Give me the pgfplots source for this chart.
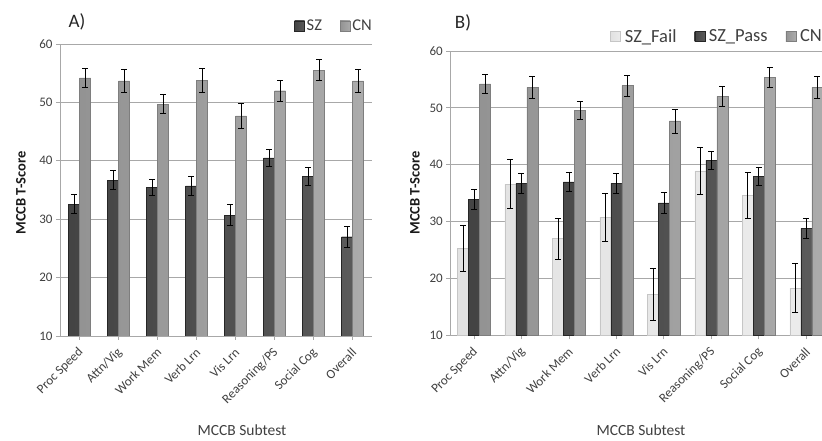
\documentclass[border=0pt]{standalone}
\usepackage{pgfplots}
\pgfplotsset{compat=1.18}
\usepackage{fontspec}
\setmainfont{Carlito}
\definecolor{txt}{HTML}{404040}
\definecolor{gridc}{HTML}{A8A8A8}
\definecolor{szL}{HTML}{444444}
\definecolor{szM}{HTML}{2A2A2A}
\definecolor{szR}{HTML}{5A5A5A}
\definecolor{szD}{HTML}{262626}
\definecolor{cnL}{HTML}{939393}
\definecolor{cnM}{HTML}{DADADA}
\definecolor{cnR}{HTML}{ABABAB}
\definecolor{cnD}{HTML}{7E7E7E}
\definecolor{fL}{HTML}{E2E2E2}
\definecolor{fM}{HTML}{FFFFFF}
\definecolor{fR}{HTML}{EBEBEB}
\definecolor{fD}{HTML}{C6C6C6}

\pgfplotstableread{
x y e
0 32.6 1.6
1 36.7 1.6
2 35.4 1.4
3 35.7 1.7
4 30.7 1.8
5 40.5 1.5
6 37.3 1.5
7 27.0 1.8
}\Asz
\pgfplotstableread{
x y e
0 54.2 1.7
1 53.7 1.9
2 49.7 1.6
3 53.8 2.0
4 47.7 2.2
5 52.0 1.8
6 55.5 1.8
7 53.7 2.0
}\Acn
\pgfplotstableread{
x y e
0 25.3 4.1
1 36.6 4.3
2 27.0 3.6
3 30.8 4.2
4 17.2 4.5
5 38.9 4.1
6 34.6 4.0
7 18.3 4.3
}\Bfail
\pgfplotstableread{
x y e
0 33.9 1.7
1 36.7 1.8
2 37.0 1.6
3 36.7 1.8
4 33.3 1.8
5 40.8 1.6
6 37.9 1.6
7 28.8 1.8
}\Bpass
\pgfplotstableread{
x y e
0 54.2 1.7
1 53.6 1.9
2 49.6 1.6
3 53.9 1.9
4 47.7 2.1
5 52.0 1.8
6 55.4 1.8
7 53.6 2.0
}\Bcn

\pgfplotsset{
  panel/.style={
    scale only axis,
    ymin=10, ymax=60, ytick={10,20,...,60},
    xmin=-0.5, xmax=7.5, xtick={0,...,7},
    xticklabels={Proc Speed, Attn/Vig, Work Mem, Verb Lrn, Vis Lrn, Reasoning/PS, Social Cog, Overall},
    ymajorgrids, grid style={color=gridc, line width=0.8pt},
    axis x line*=bottom, axis y line*=left,
    axis line style={color=gridc, line width=0.8pt, -},
    tick style={color=gridc, line width=0.8pt},
    tick align=outside, major tick length=4pt,
    /pgf/number format/assume math mode=true,
    yticklabel style={font=\fontsize{13}{13}\selectfont, text=txt},
    xticklabel style={font=\fontsize{13}{13}\selectfont, text=txt, xshift=4pt, yshift=-8pt, rotate=45, anchor=east},
    ybar=0pt, bar width=11pt,
    legend style={draw=none, fill=none, legend columns=-1, text=txt},
    legend image code/.code={\draw[##1, line width=0.3pt] (0pt,-5pt) rectangle (10pt,5pt);},
    error bars/error bar style={line width=0.7pt, black},
    error bars/error mark options={rotate=90, mark size=3pt, line width=0.7pt, black},
  },
  szstyle/.style={left color=szL, middle color=szM, right color=szR, draw=szD, line width=0.4pt},
  cnstyle/.style={left color=cnL, middle color=cnM, right color=cnR, draw=cnD, line width=0.4pt},
  fstyle/.style={left color=fL, middle color=fM, right color=fR, draw=fD, line width=0.4pt},
}

\begin{document}
\begin{tikzpicture}
\useasboundingbox (0pt,0pt) rectangle (822pt,441pt);
\clip (0pt,0pt) rectangle (822pt,441pt);

\begin{axis}[panel, at={(60pt,105pt)}, anchor=south west, width=312pt, height=292pt,
  legend style={at={(1,1)}, anchor=south east, yshift=8pt, xshift=5pt,
    font=\fontsize{16.5}{17}\selectfont,
    /tikz/every even column/.append style={column sep=16pt}}]
\addplot[szstyle, error bars/.cd, y dir=both, y explicit] table[x=x, y=y, y error=e] {\Asz};
\addplot[cnstyle, error bars/.cd, y dir=both, y explicit] table[x=x, y=y, y error=e] {\Acn};
\legend{SZ, CN}
\end{axis}

\begin{axis}[panel, at={(450.3pt,105.7pt)}, anchor=south west, width=379.7pt, height=284.3pt,
  legend style={at={(1,1)}, anchor=south east, yshift=3pt, xshift=-3pt,
    font=\fontsize{18.5}{19}\selectfont,
    /tikz/every odd column/.append style={column sep=2pt},
    /tikz/every even column/.append style={column sep=16pt}}]
\addplot[fstyle, error bars/.cd, y dir=both, y explicit] table[x=x, y=y, y error=e] {\Bfail};
\addplot[szstyle, error bars/.cd, y dir=both, y explicit] table[x=x, y=y, y error=e] {\Bpass};
\addplot[cnstyle, error bars/.cd, y dir=both, y explicit] table[x=x, y=y, y error=e] {\Bcn};
\legend{SZ\_Fail, SZ\_Pass, CN}
\end{axis}

\node[font=\fontsize{19}{19}\selectfont, text=black!85] at (77pt,419pt) {A)};
\node[font=\fontsize{19}{19}\selectfont, text=black!85] at (463pt,418.5pt) {B)};
\node[font=\fontsize{15.5}{16}\selectfont, text=txt] at (242pt,11pt) {MCCB Subtest};
\node[font=\fontsize{15.5}{16}\selectfont, text=txt] at (641pt,11pt) {MCCB Subtest};
\node[font=\bfseries\fontsize{14.5}{15}\selectfont, text=black!90, rotate=90] at (21pt,248pt) {MCCB T-Score};
\node[font=\bfseries\fontsize{14.5}{15}\selectfont, text=black!90, rotate=90] at (415pt,248pt) {MCCB T-Score};
\end{tikzpicture}
\end{document}
